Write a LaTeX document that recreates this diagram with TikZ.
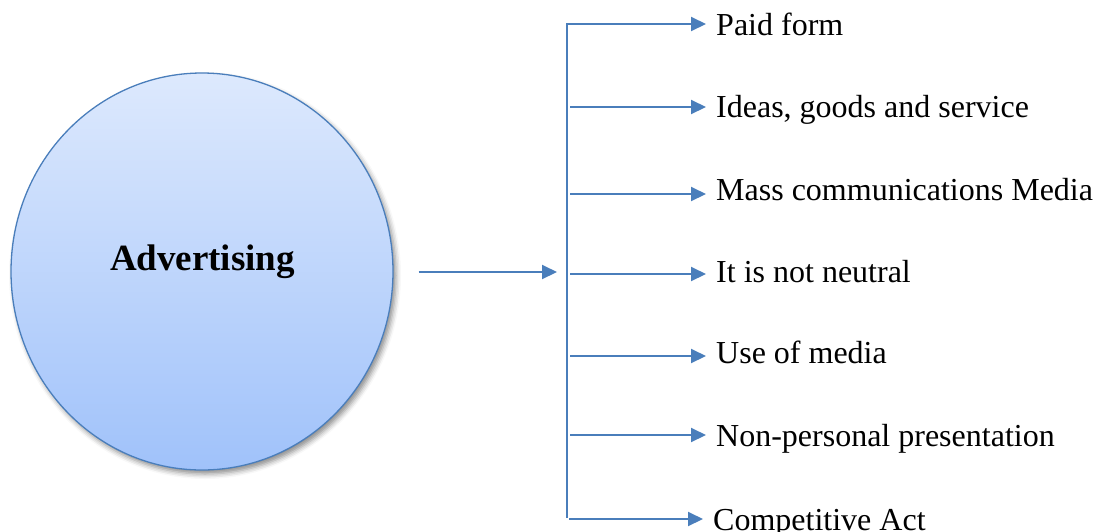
\documentclass[tikz,border=0pt]{standalone}
\usepackage{fontspec}
\setmainfont{Liberation Serif}
\usetikzlibrary{arrows.meta,shapes.geometric,shadows.blur}
\definecolor{linec}{RGB}{74,126,187}
\definecolor{topc}{RGB}{221,233,253}
\definecolor{botc}{RGB}{160,194,250}
\tikzset{
  conn/.style={draw=linec, line width=2pt, -{Triangle[length=15pt,width=14pt]}},
  itemlabel/.style={anchor=base west, inner sep=0pt, inner xsep=10pt, font=\fontsize{32}{38}\selectfont},
  advbox/.style={ellipse, draw=linec, line width=1.3pt, minimum width=382pt, minimum height=397pt,
    inner sep=0pt, top color=topc, bottom color=botc,
    blur shadow={shadow xshift=3pt, shadow yshift=-4pt, shadow blur radius=5pt, shadow opacity=45}}
}
\begin{document}
\begin{tikzpicture}[x=1pt,y=-1pt]
\useasboundingbox (0,0) rectangle (1097,531);
\node[advbox] (adv) at (202,271.5) {};
\node[anchor=base, inner sep=0pt, font=\bfseries\fontsize{37}{44}\selectfont] (advtext) at (202.5,270) {Advertising};
% bar
\coordinate (bartop) at (567,24);
\coordinate (barbot) at (567,518);
\coordinate (barin) at (567,272);
\draw[draw=linec, line width=2pt] (bartop) -- (barbot);
\draw[conn, shorten <=25pt, shorten >=10pt] (adv.east |- barin) -- (barin);
% branch starts
\coordinate (s1) at (566,24);
\coordinate (s2) at (570,107);
\coordinate (s3) at (570,194);
\coordinate (s4) at (570,274);
\coordinate (s5) at (570,356);
\coordinate (s6) at (570,435);
\coordinate (s7) at (569,519);
% labels
\node[itemlabel] (l1) at (706,35) {Paid form};
\node[itemlabel] (l2) at (706,117) {Ideas, goods and service};
\node[itemlabel] (l3) at (706,200) {Mass communications Media};
\node[itemlabel] (l4) at (706,282) {It is not neutral};
\node[itemlabel] (l5) at (706,363) {Use of media};
\node[itemlabel] (l6) at (706,446) {Non-personal presentation};
\node[itemlabel] (l7) at (703,530) {Competitive Act};
\foreach \i in {1,...,7}{
  \draw[conn] (s\i) -- (s\i -| l\i.west);
}
\end{tikzpicture}
\end{document}
